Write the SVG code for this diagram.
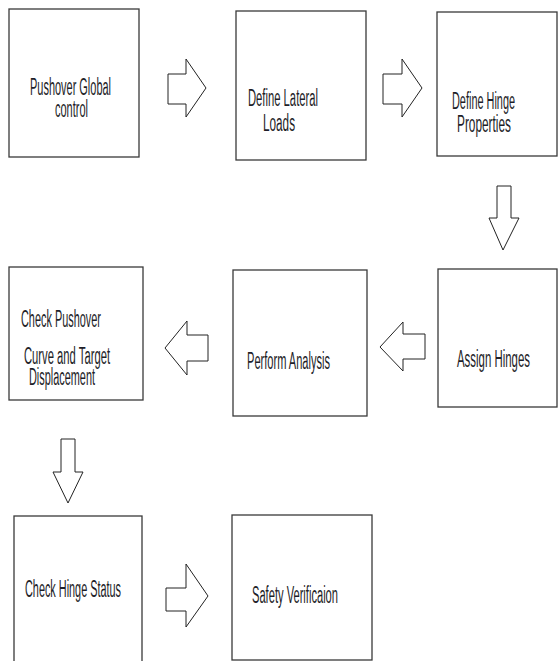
<svg xmlns="http://www.w3.org/2000/svg" width="558" height="661" viewBox="0 0 558 661">
<style>
.box{fill:#fff;stroke:#3a3a3a;stroke-width:1.3}
.arr{fill:#fff;stroke:#222;stroke-width:1}
text{font-family:"Liberation Sans Narrow","Liberation Sans",Arial,sans-serif;font-size:23px;fill:#1e1e28}
</style>
<rect width="558" height="661" fill="#fff"/>
<g id="n1"><rect class="box" x="9" y="9" width="130" height="148"/>
<text x="30" y="95" textLength="81" lengthAdjust="spacingAndGlyphs">Pushover Global</text>
<text x="55" y="117" textLength="33" lengthAdjust="spacingAndGlyphs">control</text></g>
<g id="n2"><rect class="box" x="236" y="11" width="130" height="149"/>
<text x="248" y="106" textLength="70" lengthAdjust="spacingAndGlyphs">Define Lateral</text>
<text x="263" y="131" textLength="32" lengthAdjust="spacingAndGlyphs">Loads</text></g>
<g id="n3"><rect class="box" x="437" y="12" width="120" height="144"/>
<text x="452" y="109" textLength="63" lengthAdjust="spacingAndGlyphs">Define Hinge</text>
<text x="457" y="132" textLength="54" lengthAdjust="spacingAndGlyphs">Properties</text></g>
<g id="n4"><rect class="box" x="438" y="269" width="119" height="138"/>
<text x="457" y="367" textLength="73" lengthAdjust="spacingAndGlyphs">Assign Hinges</text></g>
<g id="n5"><rect class="box" x="233" y="270" width="134" height="146"/>
<text x="247" y="369" textLength="83" lengthAdjust="spacingAndGlyphs">Perform Analysis</text></g>
<g id="n6"><rect class="box" x="9" y="267" width="134" height="133"/>
<text x="21" y="327" textLength="80" lengthAdjust="spacingAndGlyphs">Check Pushover</text>
<text x="24" y="364" textLength="86" lengthAdjust="spacingAndGlyphs">Curve and Target</text>
<text x="29" y="385" textLength="66" lengthAdjust="spacingAndGlyphs">Displacement</text></g>
<g id="n7"><rect class="box" x="14" y="516" width="128" height="150"/>
<text x="25" y="597" textLength="96" lengthAdjust="spacingAndGlyphs">Check Hinge Status</text></g>
<g id="n8"><rect class="box" x="232" y="515" width="140" height="145"/>
<text x="252" y="603" textLength="86" lengthAdjust="spacingAndGlyphs">Safety Verificaion</text></g>
<g id="connectors">
<polygon class="arr" points="168,74 186,74 186,59 206,88 186,117 186,104 168,104"/>
<polygon class="arr" points="383,74 402,74 402,59 422,88 402,117 402,104 383,104"/>
<polygon class="arr" points="497,186 511,186 511,218 519,218 503,250 489,218 497,218"/>
<polygon class="arr" points="425,334 403,334 403,322 380,347 403,371 403,359 425,359"/>
<polygon class="arr" points="208,335 187,335 187,321 165,348 187,375 187,361 208,361"/>
<polygon class="arr" points="61,439 75,439 75,472 83,472 68,503 53,472 61,472"/>
<polygon class="arr" points="166,588 186,588 186,564 208,596 186,627 186,611 166,611"/>
</g>
</svg>
